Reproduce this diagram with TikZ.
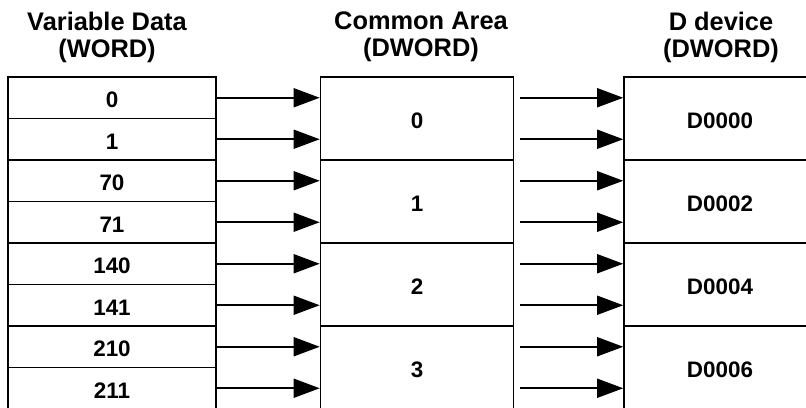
\documentclass[tikz,border=0pt]{standalone}
\usepackage{fontspec}
\setmainfont{Liberation Sans}
\usetikzlibrary{arrows.meta}

\begin{document}
\begin{tikzpicture}[x=1bp, y=-1bp,
  cell/.style={draw, line width=1.6bp, inner sep=0pt, minimum height=41.5bp,
    text height=20bp, text depth=0pt, font=\fontsize{22.5}{26}\selectfont\bfseries},
  head/.style={align=center, inner sep=0pt, font=\fontsize{25.5}{27}\selectfont\bfseries},
  arr/.style={line width=1.6bp, -{Triangle[length=26bp,width=19bp]}}]
 \useasboundingbox (0,0) rectangle (806,407);
 \clip (0,0) rectangle (806,407);
 % column titles
 \node[head] (hv) at (107,37) {Variable Data\\(WORD)};
 \node[head] (hc) at (421,37) {Common Area\\(DWORD)};
 \node[head] (hd) at (721,37) {D device\\(DWORD)};
 % word cells
 \foreach \v [count=\i from 0] in {0,1,70,71,140,141,210,211}
  \node[cell, minimum width=208bp] (L\i) at (112,{97.75+41.5*\i}) {\v};
 % common area and D device
 \foreach \v [count=\i from 0] in {0,1,2,3}
  \node[cell, minimum width=193bp, minimum height=83bp] (M\i) at (417,{118.5+83*\i}) {\v};
 \foreach \v [count=\i from 0] in {D0000,D0002,D0004,D0006}
  \node[cell, minimum width=192bp, minimum height=83bp] (R\i) at (720,{118.5+83*\i}) {\v};
 % arrows
 \foreach \i in {0,...,7} {
  \draw[arr] (L\i.east) -- (L\i.east -| M0.west);
  \draw[arr] ([xshift=6bp]L\i.east -| M0.east) -- (L\i.east -| R0.west);
 }
\end{tikzpicture}
\end{document}
